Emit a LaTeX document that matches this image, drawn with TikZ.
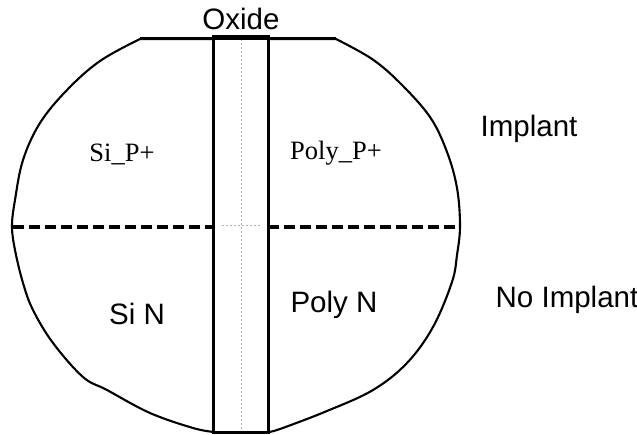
\documentclass[tikz,border=0pt]{standalone}
\usepackage{fontspec}
\setmainfont{Liberation Sans}
\newfontfamily\serifl{Liberation Serif}
\begin{document}
\begin{tikzpicture}[x=1pt,y=-1pt,
  outline/.style={line width=2.1pt,black},
  oxbox/.style={line width=3pt,black},
  split/.style={line width=3.4pt,black,dash pattern=on 11pt off 5pt},
  guide/.style={line width=1pt,gray!60,dash pattern=on 2pt off 2pt},
  sanslbl/.style={font=\fontsize{29.5}{32}\selectfont,inner sep=0pt},
  seriflbl/.style={font=\serifl\fontsize{26.5}{29}\selectfont,inner sep=0pt}]
\useasboundingbox (0,0) rectangle (637,435);
% wafer outline
\draw[outline] (140,39) -- (336,39)
  plot[smooth,tension=0.6] coordinates {(336,39) (372,59) (400,83) (430,117) (447,152) (457,188) (460,226) (457,255) (452,282) (433,327) (407,363) (373,390) (327,411) (280,429) (268,432)}
  -- (214,432)
  plot[smooth,tension=0.6] coordinates {(214,432) (193,428) (150,413) (107,390) (83,377) (53,343) (33,310) (23,283) (15,250) (12,226) (15,200) (23,160) (40,123) (67,90) (100,61) (140,39)};
% oxide strip
\fill[white] (214,37) rectangle (268,432);
\draw[guide] (241,39) -- (241,430);
\draw[guide] (222,226) -- (262,226);
\coordinate (sl) at (13,227);
\coordinate (sr) at (459,227);
\node[draw=none,minimum width=54pt,minimum height=395pt,inner sep=0pt] (ox) at (241,234.5) {};
\draw[oxbox] (ox.north west) rectangle (ox.south east);
\draw[outline] (140,38.5) -- (336,38.5);
% implant boundary
\draw[split] (sl) -- (sl -| ox.west);
\draw[split] (sr -| ox.east) -- (sr);
% labels
\node[sanslbl] (oxide) at (241,19) {Oxide};
\node[seriflbl,anchor=base] (sip) at (122,162) {Si\_P+};
\node[seriflbl,anchor=base] (polyp) at (336,160) {Poly\_P+};
\node[sanslbl,anchor=base] (imp) at (529,137) {Implant};
\node[sanslbl,anchor=base] (sin) at (137,325) {Si N};
\node[sanslbl,anchor=base] (polyn) at (334,313) {Poly N};
\node[sanslbl,anchor=base] (noimp) at (567,308) {No Implant};
\end{tikzpicture}
\end{document}
